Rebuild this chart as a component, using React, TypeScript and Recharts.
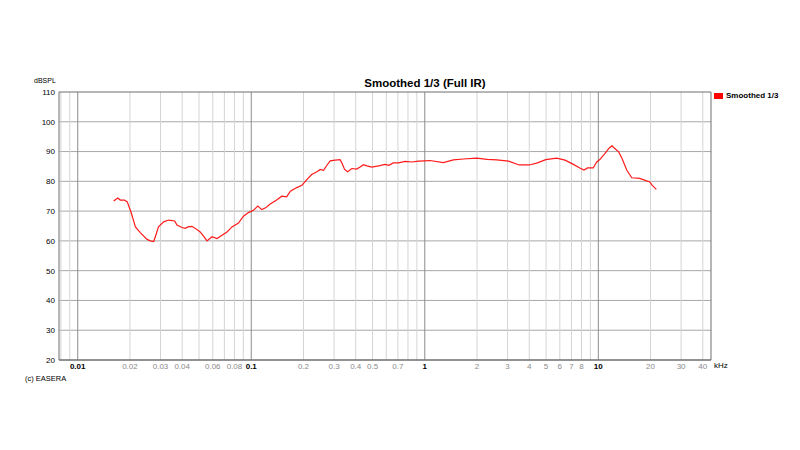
import { LineChart, Line, XAxis, YAxis, ReferenceLine } from 'recharts';

const freqKHz = [
  0.0161, 0.017, 0.0176, 0.0186, 0.0193, 0.0204, 0.0215, 0.023, 0.0251, 0.0262,
  0.0274, 0.028, 0.0292, 0.0313, 0.0334, 0.0362, 0.0373, 0.0399, 0.0417, 0.0432,
  0.0455, 0.0476, 0.0508, 0.0531, 0.0556, 0.0594, 0.0635, 0.0678, 0.0725, 0.0774,
  0.0844, 0.0902, 0.0963, 0.103, 0.109, 0.115, 0.121, 0.128, 0.14, 0.15,
  0.16, 0.168, 0.183, 0.196, 0.209, 0.223, 0.239, 0.25, 0.261, 0.273,
  0.285, 0.305, 0.325, 0.334, 0.345, 0.359, 0.38, 0.405, 0.424, 0.443,
  0.464, 0.495, 0.542, 0.59, 0.621, 0.658, 0.705, 0.771, 0.843, 0.918,
  1.0, 1.07, 1.28, 1.46, 1.67, 1.99, 2.29, 2.6, 3.04, 3.5,
  4.01, 4.46, 4.98, 5.75, 6.43, 7.19, 7.82, 8.27, 8.66, 9.34,
  9.79, 10.2, 10.9, 11.6, 12.0, 12.3, 13.1, 13.7, 14.6, 15.6,
  17.3, 18.5, 19.8, 20.4, 21.6,
];

const splDb = [
  73.4, 74.4, 73.7, 73.7, 73.1, 69.2, 64.7, 62.7, 60.5, 60.0,
  59.8, 61.4, 64.7, 66.4, 67.0, 66.7, 65.3, 64.5, 64.2, 64.7,
  64.9, 64.2, 63.0, 61.6, 60.0, 61.4, 60.8, 61.9, 63.0, 64.7,
  66.0, 68.3, 69.5, 70.3, 71.7, 70.5, 71.1, 72.3, 73.7, 75.0,
  74.8, 76.7, 77.9, 78.7, 80.6, 82.3, 83.2, 84.0, 83.7, 85.4,
  86.9, 87.1, 87.3, 86.0, 84.0, 83.2, 84.3, 84.1, 84.8, 85.6,
  85.2, 84.8, 85.2, 85.7, 85.4, 86.2, 86.2, 86.7, 86.5, 86.8,
  86.9, 87.0, 86.3, 87.2, 87.5, 87.8, 87.4, 87.2, 86.8, 85.5,
  85.5, 86.2, 87.3, 87.8, 87.1, 85.7, 84.5, 83.8, 84.5, 84.5,
  86.5, 87.3, 89.3, 91.3, 91.9, 91.3, 89.9, 87.7, 83.7, 81.2,
  81.0, 80.4, 79.8, 78.7, 77.3,
];

const xTicks = [
  0.01, 0.02, 0.03, 0.04, 0.06, 0.08, 0.1, 0.2, 0.3, 0.4, 0.5, 0.7, 1,
  2, 3, 4, 5, 6, 7, 8, 10, 20, 30, 40,
];
const majorX = [0.01, 0.1, 1, 10];
const minorX = [
  0.008, 0.009, 0.02, 0.03, 0.04, 0.05, 0.06, 0.07, 0.08, 0.09,
  0.2, 0.3, 0.4, 0.5, 0.6, 0.7, 0.8, 0.9,
  2, 3, 4, 5, 6, 7, 8, 9, 20, 30, 40,
];
const yTicks = [20, 30, 40, 50, 60, 70, 80, 90, 100, 110];
const xDomain = [0.0078, 44.6];

const seriesName = 'Smoothed 1/3';
const data = freqKHz.map((f, i) => ({ f, spl: splDb[i] }));

const FONT = '"Liberation Sans", Arial, sans-serif';

const XTick = (props: any) => {
  const { x, y, payload } = props;
  const major = majorX.includes(payload.value);
  return (
    <text
      x={x}
      y={y + 9}
      textAnchor="middle"
      fontFamily={FONT}
      fontSize={8}
      fontWeight={major ? 'bold' : 'normal'}
      fill={major ? '#000' : '#8a8a8a'}
    >
      {payload.value}
    </text>
  );
};

export default function App() {
  return (
    <div style={{ position: 'absolute', left: 0, top: 0, width: 800, height: 450, background: '#fff' }}>
      <LineChart width={800} height={450} data={data} margin={{ top: 92, right: 89, bottom: 70, left: 19 }}>
        {yTicks.slice(1, -1).map((v) => (
          <ReferenceLine key={`h${v}`} y={v} stroke="#a8a8a8" strokeWidth={1} />
        ))}
        {minorX.map((v) => (
          <ReferenceLine key={`m${v}`} x={v} stroke="#d4d4d4" strokeWidth={1} />
        ))}
        {majorX.map((v) => (
          <ReferenceLine key={`M${v}`} x={v} stroke="#8c8c8c" strokeWidth={1} />
        ))}
        <ReferenceLine y={110} stroke="#6e6e6e" />
        <ReferenceLine x={xDomain[1]} stroke="#6e6e6e" />
        <XAxis
          dataKey="f"
          type="number"
          scale="log"
          domain={xDomain}
          ticks={xTicks}
          allowDataOverflow
          tickLine={false}
          tickSize={0}
          tickMargin={0}
          height={20}
          axisLine={{ stroke: '#6e6e6e', strokeWidth: 1.5 }}
          tick={<XTick />}
          interval={0}
        />
        <YAxis
          type="number"
          domain={[20, 110]}
          ticks={yTicks}
          width={40}
          tickLine={false}
          tickSize={0}
          tickMargin={4}
          interval={0}
          axisLine={{ stroke: '#6e6e6e' }}
          tick={{ fontSize: 8, fill: '#000', fontFamily: FONT }}
        />
        <Line
          type="linear"
          dataKey="spl"
          name={seriesName}
          stroke="#ff1a1a"
          strokeWidth={1.2}
          dot={false}
          isAnimationActive={false}
        />
      </LineChart>
      <div style={{ position: 'absolute', left: 0, width: 850, top: 77, textAlign: 'center', fontFamily: FONT, fontSize: 11.5, fontWeight: 'bold' }}>
        Smoothed 1/3 (Full IR)
      </div>
      <div style={{ position: 'absolute', left: 714, top: 91, display: 'flex', alignItems: 'center', fontFamily: FONT, fontSize: 8, fontWeight: 'bold' }}>
        <span style={{ display: 'inline-block', width: 9, height: 6, background: '#ff0000', marginRight: 3 }} />
        {seriesName}
      </div>
      <div style={{ position: 'absolute', left: 34, top: 77, fontFamily: FONT, fontSize: 7 }}>dBSPL</div>
      <div style={{ position: 'absolute', left: 714, top: 361, fontFamily: FONT, fontSize: 8 }}>kHz</div>
      <div style={{ position: 'absolute', left: 25, top: 374, fontFamily: FONT, fontSize: 7.5 }}>(c) EASERA</div>
    </div>
  );
}
